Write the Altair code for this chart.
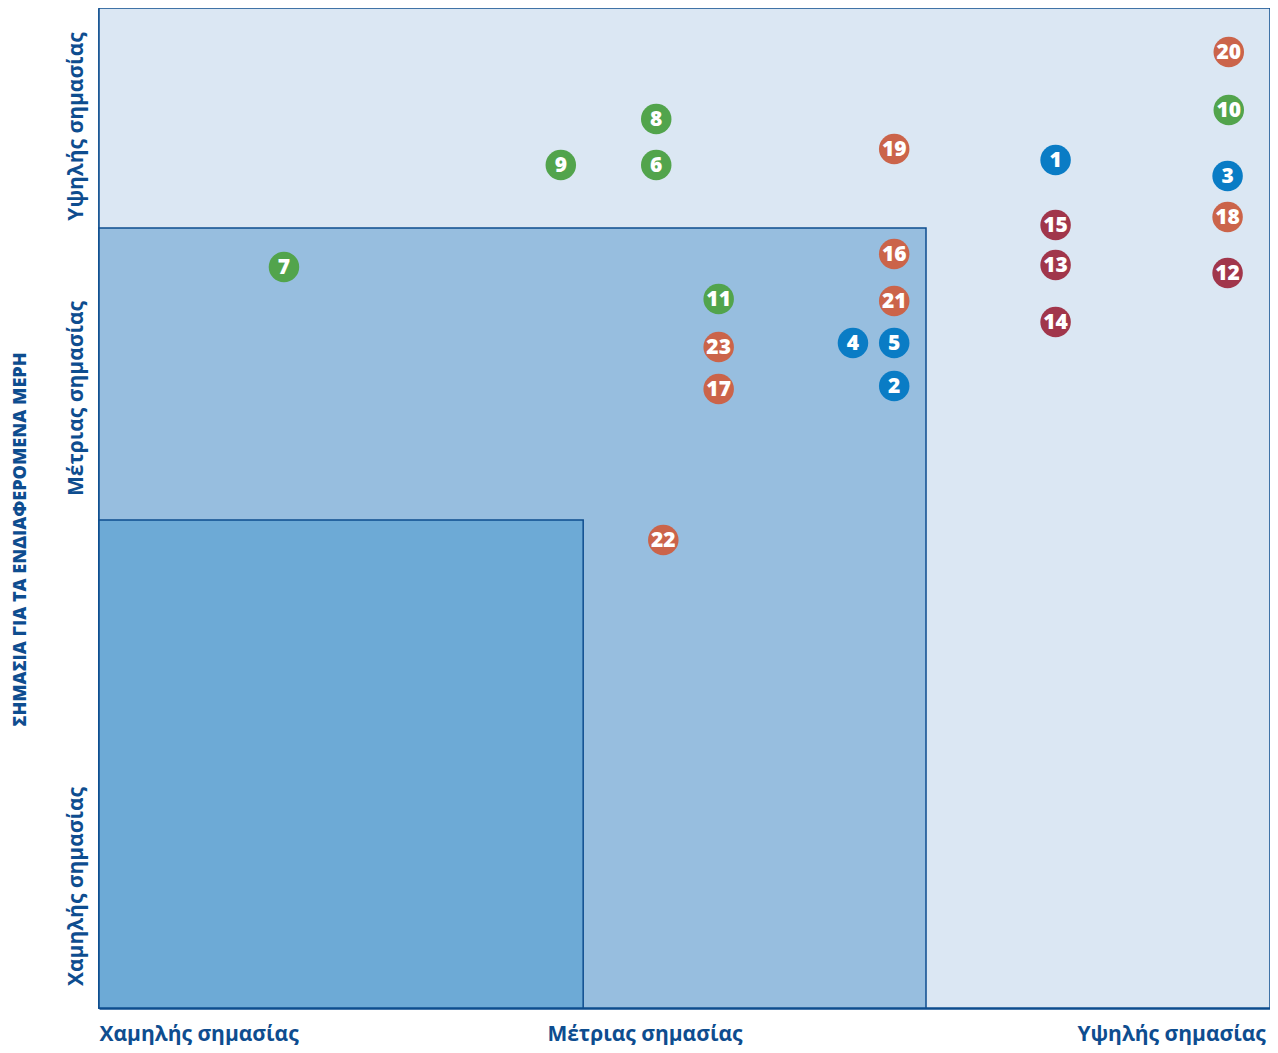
import altair as alt
import pandas as pd

# Issue numbers, positions (0-100 importance scales) and groups
ids = [1, 2, 3, 4, 5, 6, 7, 8, 9, 10, 11, 12, 13, 14, 15, 16, 17, 18, 19, 20, 21, 22, 23]
x_vals = [81.2, 67.5, 95.8, 64.0, 67.5, 47.3, 15.7, 47.3, 39.2, 95.9, 52.6, 95.8, 81.2, 81.2, 81.2,
          67.5, 52.6, 95.8, 67.5, 95.9, 67.5, 47.9, 52.6]
y_vals = [84.8, 62.2, 83.2, 66.5, 66.5, 84.3, 74.1, 88.9, 84.3, 89.8, 70.9, 73.5, 74.3, 68.6, 78.3,
          75.4, 61.9, 79.1, 85.9, 95.6, 70.7, 46.8, 66.1]
groups = ["blue", "blue", "blue", "blue", "blue", "green", "green", "green", "green", "green", "green",
          "red", "red", "red", "red", "orange", "orange", "orange", "orange", "orange", "orange",
          "orange", "orange"]

group_names = ["green", "blue", "orange", "red"]
group_colors = ["#52a44c", "#0a7cc5", "#cb644a", "#a1364b"]

# Zones (outer = full domain)
zone_x2 = [100, 70.2, 41.1]
zone_y2 = [100, 78.0, 48.8]
zone_colors = ["#dbe7f3", "#97bedf", "#6daad6"]

tick_labels = ["Χαμηλής σημασίας", "Μέτριας σημασίας", "Υψηλής σημασίας"]
x_tick_pos = [0, 46.3, 99.0]
y_tick_pos = [12.2, 61.0, 88.2]

y_title = "ΣΗΜΑΣΙΑ ΓΙΑ ΤΑ ΕΝΔΙΑΦΕΡΟΜΕΝΑ ΜΕΡΗ"

DARK = "#0e4d8f"
FONT = "Open Sans"

pts = pd.DataFrame({"id": ids, "x": x_vals, "y": y_vals, "group": groups})
pts["label"] = pts["id"].astype(str)
zones = pd.DataFrame({"x": [0, 0, 0], "y": [0, 0, 0], "x2": zone_x2, "y2": zone_y2,
                      "c": zone_colors, "order": [0, 1, 2]})

xlabel_expr = ("datum.value < 10 ? '" + tick_labels[0] + "' : datum.value < 60 ? '" +
               tick_labels[1] + "' : '" + tick_labels[2] + "'")
ylabel_expr = ("datum.value < 30 ? '" + tick_labels[0] + "' : datum.value < 75 ? '" +
               tick_labels[1] + "' : '" + tick_labels[2] + "'")

xscale = alt.Scale(domain=[0, 99.4], nice=False, zero=False, clamp=True)
yscale = alt.Scale(domain=[0, 100], nice=False, zero=False, clamp=True)

xaxis = alt.Axis(values=x_tick_pos, labelExpr=xlabel_expr, title=None, grid=False, ticks=False,
                 tickSize=0, domain=True, domainColor=DARK, domainWidth=2.5,
                 labelFont=FONT, labelFontSize=21, labelFontWeight="bold", labelColor=DARK,
                 labelPadding=15, labelBaseline="top", labelLimit=400, labelFlush=False,
                 labelOverlap=False,
                 labelAlign={"condition": [{"test": "datum.value < 10", "value": "left"},
                                           {"test": "datum.value > 60", "value": "right"}],
                             "value": "center"})
yaxis = alt.Axis(values=y_tick_pos, labelExpr=ylabel_expr, title=y_title, grid=False, ticks=False,
                 tickSize=0, domain=True, domainColor=DARK, domainWidth=2.5,
                 labelFont=FONT, labelFontSize=21, labelFontWeight="bold", labelColor=DARK,
                 labelAngle=-90, labelAlign="center", labelBaseline="bottom", labelPadding=13,
                 labelLimit=400, labelFlush=False, labelOverlap=False,
                 titleFont=FONT, titleFontSize=18, titleFontWeight=800, titleColor=DARK,
                 titleAngle=-90, titleX=-79, titleY=531, titleAlign="center",
                 titleBaseline="middle", titleLimit=600)

zone_layer = alt.Chart(zones).mark_rect(stroke=DARK, strokeWidth=1.5).encode(
    x=alt.X("x:Q", scale=xscale, axis=xaxis),
    x2="x2:Q",
    y=alt.Y("y:Q", scale=yscale, axis=yaxis),
    y2="y2:Q",
    fill=alt.Fill("c:N", scale=None),
    order="order:Q",
)

circles = alt.Chart(pts).mark_circle(size=930, opacity=1).encode(
    x=alt.X("x:Q", scale=xscale),
    y=alt.Y("y:Q", scale=yscale),
    color=alt.Color("group:N", scale=alt.Scale(domain=group_names, range=group_colors), legend=None),
)

labels = alt.Chart(pts).mark_text(font=FONT, fontSize=21, fontWeight=800, color="white",
                                  baseline="middle", align="center", dy=1).encode(
    x=alt.X("x:Q", scale=xscale),
    y=alt.Y("y:Q", scale=yscale),
    text="label:N",
)

chart = alt.layer(zone_layer, circles, labels).properties(
    width=1171, height=1000,
    autosize=alt.AutoSizeParams(type="none"),
    padding={"left": 91, "top": 0, "right": 0, "bottom": 37},
).configure_view(stroke=DARK, strokeWidth=2).configure(background="white")

chart.save("out.html", embed_options={"renderer": "svg", "actions": False})
